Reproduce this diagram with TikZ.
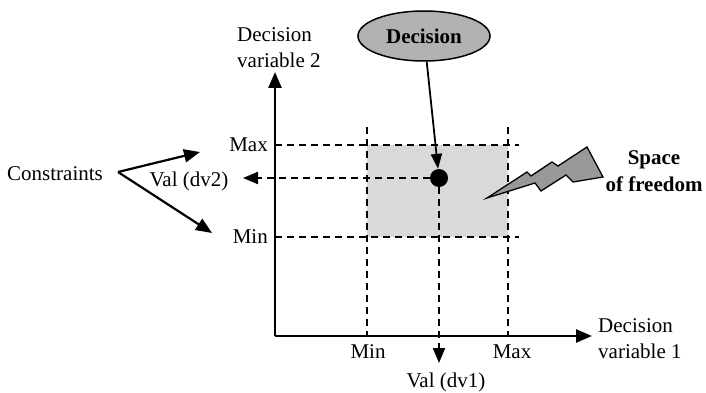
\documentclass[tikz,border=0pt]{standalone}
\usepackage{fontspec}
\setmainfont{Liberation Serif}
\usetikzlibrary{arrows.meta,shapes.geometric}
\definecolor{ellgray}{gray}{0.70}
\definecolor{boxgray}{gray}{0.85}
\definecolor{boltgray}{gray}{0.60}
\begin{document}
\begin{tikzpicture}[x=1pt,y=-1pt,
  font=\fontsize{21}{26}\selectfont,
  lbl/.style={inner sep=0pt},
  axis/.style={line width=2.6pt,-{Triangle[length=16pt,width=13pt]}},
  guide/.style={line width=2pt,dash pattern=on 7pt off 5pt},
  guidearrow/.style={guide,-{Triangle[length=15pt,width=12pt]}},
  conarrow/.style={line width=2.2pt,-{Triangle[length=16pt,width=13pt]}},
  decarrow/.style={line width=1.8pt,-{Triangle[length=15pt,width=11pt]}}]
\useasboundingbox (0,0) rectangle (706,393);
% space of freedom
\fill[boxgray] (367,145) rectangle (508,237);
% coordinates
\coordinate (O) at (275,336);
\coordinate (ytip) at (275,72);
\coordinate (xtip) at (592,336);
\coordinate (ymax) at (275,145);
\coordinate (ymin) at (275,237);
\coordinate (ymaxe) at (519,145);
\coordinate (ymine) at (519,237);
\coordinate (xmint) at (367,127);
\coordinate (xmaxt) at (508,127);
\coordinate (xminb) at (367,336);
\coordinate (xmaxb) at (508,336);
\coordinate (v2tip) at (243,178);
\coordinate (v1tip) at (439,363);
\coordinate (cv) at (118,172);
\coordinate (ctop) at (200,152);
\coordinate (cbot) at (212,233);
% guides
\draw[guide] (ymax) -- (ymaxe);
\draw[guide] (ymin) -- (ymine);
\draw[guide] (xmint) -- (xminb);
\draw[guide] (xmaxt) -- (xmaxb);
% axes
\draw[axis] (O) -- (ytip);
\draw[axis] (O) -- (xtip);
% decision point
\node[circle,fill=black,minimum size=18pt,inner sep=0pt] (dot) at (439,178) {};
\draw[guidearrow] (dot) -- (v2tip);
\draw[guidearrow] (dot) -- (v1tip);
% decision ellipse
\node[ellipse,draw,line width=1.5pt,fill=ellgray,minimum width=132pt,minimum height=50pt,inner sep=0pt,font=\fontsize{21}{26}\selectfont\bfseries] (dec) at (424,36) {Decision};
\draw[decarrow] (dec) -- (dot);
% lightning bolt
\draw[fill=boltgray,line width=1.3pt,line join=miter] (487,198) -- (527,172) -- (531,176) -- (552,162) -- (558,166) -- (587,147) -- (603,177) -- (573,182) -- (566,175) -- (541,191) -- (535,183) -- cycle;
% labels
\node[lbl,align=left,anchor=north west] (dv2) at (237,27) {Decision\\variable 2};
\node[lbl,align=left,anchor=north west] (dv1) at (598,318) {Decision\\variable 1};
\node[lbl,anchor=east] (maxl) at (268,145) {Max};
\node[lbl,anchor=east] (minl) at (268,237) {Min};
\node[lbl] (val2) at (189,181) {Val (dv2)};
\node[lbl,anchor=west] (cons) at (7,174) {Constraints};
\node[lbl] (minb) at (368,352) {Min};
\node[lbl] (maxb) at (512,352) {Max};
\node[lbl] (val1) at (446,382) {Val (dv1)};
\node[lbl,align=center,anchor=north,font=\fontsize{21}{27}\selectfont\bfseries] (sof) at (654,150) {Space\\of freedom};
% constraints arrows
\draw[conarrow] (cv) -- (ctop);
\draw[conarrow] (cv) -- (cbot);
\end{tikzpicture}
\end{document}
